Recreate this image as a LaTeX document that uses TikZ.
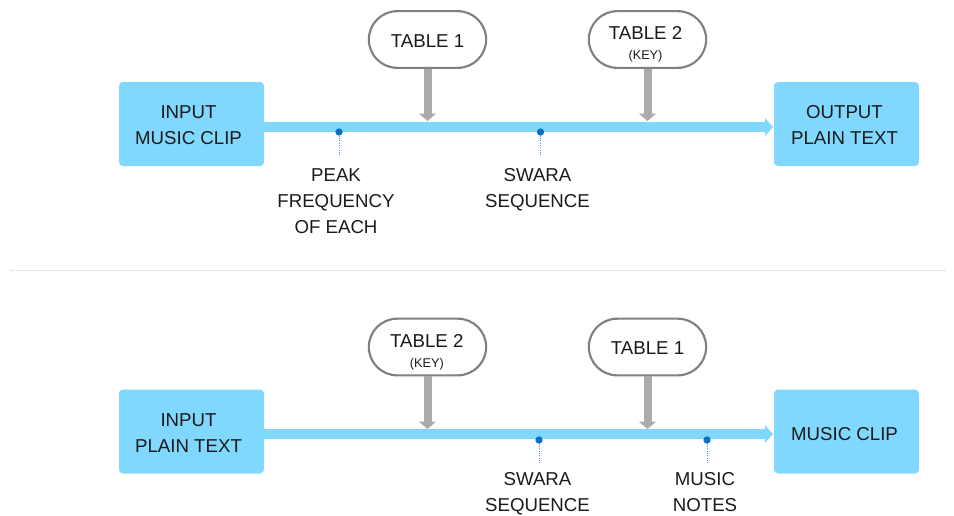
\documentclass[tikz,border=0pt]{standalone}
\usepackage{fontspec}
\setmainfont{Liberation Sans}
\usetikzlibrary{arrows.meta,shapes.misc}
\definecolor{boxblue}{HTML}{80D8FF}
\definecolor{dotblue}{HTML}{0D6EC4}
\definecolor{pillgray}{HTML}{808080}
\definecolor{arrowgray}{HTML}{ABABAB}
\definecolor{txt}{HTML}{1A1A1A}
% shifted content: #1 = kern on the right (moves left by half), #2 = kern on top (moves down by half)
\newcommand{\shiftedtext}[3]{\vbox{\kern#2pt\hbox{\begin{tabular}{@{}c@{}}#3\end{tabular}\kern#1pt}}}
\newcommand{\keyline}{{\fontsize{9.5}{11}\selectfont (KEY)}}
\tikzset{
 x=0.75pt,y=-0.75pt,
 bluebox/.style={fill=boxblue,rounded corners=3pt,minimum width=108.75pt,minimum height=63pt,inner sep=0pt,font=\fontsize{14}{19.5}\selectfont,text=txt},
 pill/.style={draw=pillgray,line width=1.6pt,fill=white,rounded rectangle,minimum width=88pt,minimum height=42.5pt,inner sep=0pt,font=\fontsize{14}{16}\selectfont,text=txt},
 flow/.style={draw=boxblue,line width=7pt,-{Triangle[length=6pt,width=13pt]},shorten >=0.5pt},
 feed/.style={draw=arrowgray,line width=6pt,-{Triangle[length=5.5pt,width=12.5pt]}},
 dotmark/.style={circle,fill=dotblue,minimum size=5.5pt,inner sep=0pt},
 lead/.style={draw=dotblue!80,line width=0.7pt,densely dotted},
 lab/.style={align=center,font=\fontsize{14}{19.5}\selectfont,text=txt,inner sep=0pt,anchor=north},
}
\begin{document}
\begin{tikzpicture}
\useasboundingbox (0,0) rectangle (954,515);
% top
\node[bluebox] (in1) at (191.5,124) {\shiftedtext{4.5}{3.9}{INPUT\\MUSIC CLIP}};
\node[bluebox] (out1) at (846.5,124) {\shiftedtext{3}{3.9}{OUTPUT\\PLAIN TEXT}};
\draw[flow] (in1.east |- 0,127) -- (out1.west |- 0,127);
\node[pill] (t1a) at (427.5,39.5) {\shiftedtext{0}{5.6}{TABLE 1}};
\node[pill] (t2a) at (647.5,39.5) {\shiftedtext{3}{8}{TABLE 2\\[-1pt]\keyline}};
\coordinate (h1) at (427.5,121);
\coordinate (h2) at (647.5,121);
\draw[feed] (t1a.south) -- (h1);
\draw[feed] (t2a.south) -- (h2);
\node[dotmark] (d1) at (339,132) {};
\node[dotmark] (d2) at (540.5,132) {};
\coordinate (e1) at (339,156);
\coordinate (e2) at (540.5,156);
\draw[lead] (d1) -- (e1);
\draw[lead] (d2) -- (e2);
\node[lab] (l1) at (336,168) {PEAK\\FREQUENCY\\OF EACH};
\node[lab] (l2) at (537.5,168) {SWARA\\SEQUENCE};
% separator
\coordinate (sepa) at (10,270);
\coordinate (sepb) at (945,270);
\draw[draw=black!18,line width=0.5pt,densely dotted] (sepa) -- (sepb);
% bottom
\node[bluebox] (in2) at (191.5,431.5) {\shiftedtext{4.5}{3.9}{INPUT\\PLAIN TEXT}};
\node[bluebox] (out2) at (846.5,431.5) {\shiftedtext{3}{6.2}{MUSIC CLIP}};
\draw[flow] (in2.east |- 0,434) -- (out2.west |- 0,434);
\node[pill] (t2b) at (427.5,347) {\shiftedtext{1}{9.3}{TABLE 2\\[-1pt]\keyline}};
\node[pill] (t1b) at (647.5,347) {\shiftedtext{0}{4.6}{TABLE 1}};
\coordinate (h3) at (427.5,429);
\coordinate (h4) at (647.5,429);
\draw[feed] (t2b.south) -- (h3);
\draw[feed] (t1b.south) -- (h4);
\node[dotmark] (d3) at (539,440) {};
\node[dotmark] (d4) at (707,440) {};
\coordinate (e3) at (539,463);
\coordinate (e4) at (707,463);
\draw[lead] (d3) -- (e3);
\draw[lead] (d4) -- (e4);
\node[lab] (l3) at (537.5,472) {SWARA\\SEQUENCE};
\node[lab] (l4) at (705,472) {MUSIC\\NOTES};
\end{tikzpicture}
\end{document}
